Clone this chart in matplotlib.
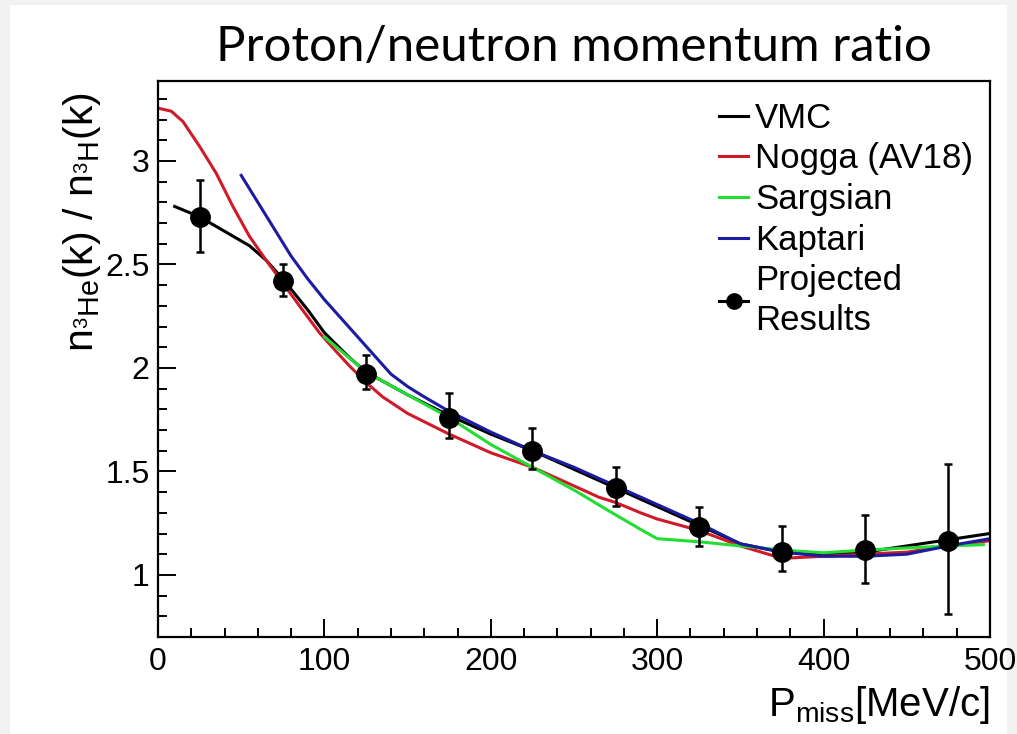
import numpy as np
from matplotlib import pyplot as plt
from matplotlib.ticker import MultipleLocator
from matplotlib.patches import Rectangle
from matplotlib.lines import Line2D

# projected results
p_x = [25, 75, 125, 175, 225, 275, 325, 375, 425, 475]
p_y = [2.73, 2.42, 1.97, 1.76, 1.60, 1.42, 1.23, 1.11, 1.12, 1.165]
p_lo = [2.56, 2.345, 1.90, 1.66, 1.51, 1.335, 1.14, 1.02, 0.96, 0.81]
p_hi = [2.91, 2.50, 2.06, 1.88, 1.71, 1.52, 1.33, 1.235, 1.29, 1.535]

# VMC
vmc_x = [10, 25, 40, 55, 65, 75, 90, 100, 115, 125, 150, 175, 200, 225, 250, 275,
         300, 325, 350, 375, 400, 425, 450, 475, 500]
vmc_y = [2.78, 2.73, 2.66, 2.59, 2.52, 2.43, 2.28, 2.17, 2.05, 1.98, 1.87, 1.77, 1.68,
         1.60, 1.51, 1.42, 1.33, 1.24, 1.15, 1.11, 1.10, 1.11, 1.14, 1.17, 1.20]

# Nogga (AV18)
nog_x = [0, 8, 15, 25, 35, 45, 55, 65, 75, 85, 97, 107, 115, 125, 135, 150, 175, 200,
         225, 250, 265, 275, 290, 300, 325, 350, 375, 400, 425, 450, 475, 500]
nog_y = [3.255, 3.24, 3.19, 3.07, 2.94, 2.78, 2.635, 2.52, 2.41, 2.30, 2.17, 2.08, 2.01,
         1.93, 1.86, 1.78, 1.68, 1.59, 1.52, 1.43, 1.375, 1.35, 1.30, 1.27, 1.215, 1.14,
         1.08, 1.09, 1.10, 1.11, 1.14, 1.165]

# Sargsian
sar_x = [100, 125, 150, 175, 200, 225, 250, 275, 290, 300, 325, 350, 375, 400, 425,
         450, 475, 496]
sar_y = [2.15, 1.98, 1.87, 1.76, 1.63, 1.52, 1.41, 1.29, 1.22, 1.175, 1.16, 1.14, 1.12,
         1.107, 1.12, 1.13, 1.14, 1.146]

# Kaptari
kap_x = [50, 60, 70, 80, 90, 100, 110, 120, 130, 140, 150, 160, 175, 200, 225, 250,
         275, 300, 325, 350, 375, 400, 425, 450, 475, 500]
kap_y = [2.93, 2.80, 2.67, 2.54, 2.43, 2.33, 2.24, 2.15, 2.06, 1.97, 1.91, 1.86, 1.79,
         1.69, 1.60, 1.52, 1.43, 1.34, 1.25, 1.15, 1.11, 1.09, 1.09, 1.10, 1.14, 1.175]

plt.rcParams['font.family'] = ['Liberation Sans', 'DejaVu Sans']
plt.rcParams['mathtext.fontset'] = 'custom'
plt.rcParams['mathtext.rm'] = 'Liberation Sans'

fig = plt.figure(figsize=(10.17, 7.34), dpi=100, facecolor='#f2f2f2')
bg = Rectangle((10 / 1017, 0), 997 / 1017, 1 - 5 / 734, transform=fig.transFigure,
               facecolor='white', edgecolor='none', zorder=-5)
fig.patches.append(bg)
ax = fig.add_axes([158 / 1017, 1 - 637 / 734, 832 / 1017, 556 / 734])
ax.set_zorder(2)

lw = 2.2
ax.plot(vmc_x, vmc_y, color='black', lw=lw)
ax.plot(nog_x, nog_y, color='#d01a2a', lw=lw)
ax.plot(sar_x, sar_y, color='#22dd33', lw=lw)
ax.plot(kap_x, kap_y, color='#1c1ca0', lw=lw)

err = [np.array(p_y) - np.array(p_lo), np.array(p_hi) - np.array(p_y)]
ax.errorbar(p_x, p_y, yerr=err, fmt='o', color='black', ms=14, elinewidth=1.8,
            capsize=3, capthick=1.8, zorder=5)

ax.set_xlim(0, 500)
ax.set_ylim(0.7, 3.386)
ax.xaxis.set_major_locator(MultipleLocator(100))
ax.xaxis.set_minor_locator(MultipleLocator(20))
ax.yaxis.set_major_locator(MultipleLocator(0.5))
ax.yaxis.set_minor_locator(MultipleLocator(0.1))
ax.yaxis.set_major_formatter(lambda v, pos: '%g' % v)
ax.tick_params(which='both', direction='in', top=False, right=False, width=1.4,
               labelsize=23)
ax.tick_params(which='major', length=13)
ax.tick_params(which='minor', length=6.5)
ax.tick_params(axis='y', pad=6)
ax.tick_params(axis='x', pad=7)
for s in ax.spines.values():
    s.set_linewidth(1.6)

handles = [Line2D([], [], color='black', lw=lw),
           Line2D([], [], color='#d01a2a', lw=lw),
           Line2D([], [], color='#22dd33', lw=lw),
           Line2D([], [], color='#1c1ca0', lw=lw),
           Line2D([], [], color='black', lw=lw, marker='o', ms=11)]
labels = ['VMC', 'Nogga (AV18)', 'Sargsian', 'Kaptari', 'Projected\nResults']
leg = ax.legend(handles, labels, loc='upper right', bbox_to_anchor=(1.005, 1.0),
                frameon=False, fontsize=25, handlelength=0.85, handletextpad=0.2,
                labelspacing=0.22, borderaxespad=0.2)
for t in leg.get_texts():
    t.set_linespacing(1.25)

fig.text(574 / 1017, 1 - 47 / 734, 'Proton/neutron momentum ratio', fontsize=35.5,
         family=['Lato', 'DejaVu Sans'], ha='center', va='center')
fig.text(82 / 1017, 1 - 222 / 734,
         r'n$_{^3\mathrm{He}}$(k) / n$_{^3\mathrm{H}}$(k)', fontsize=29.5,
         rotation=90, ha='center', va='center')
fig.text(990 / 1017, 1 - 705 / 734, r'P$_{\mathrm{miss}}$[MeV/c]', fontsize=29,
         ha='right', va='center')

fig.savefig('out.png', dpi=100, facecolor=fig.get_facecolor())
